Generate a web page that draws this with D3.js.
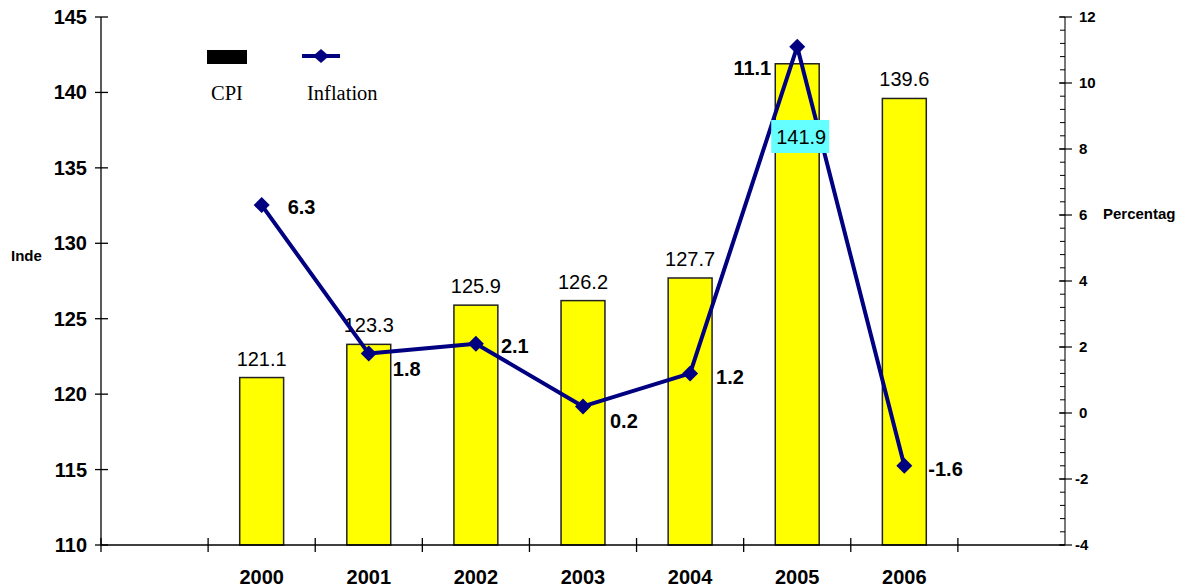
<!DOCTYPE html>
<html><head><meta charset="utf-8">
<script src="https://cdn.jsdelivr.net/npm/d3@7"></script>
<style>body{margin:0;background:#fff}svg{display:block}</style>
</head><body>
<svg id="c" width="1196" height="588"></svg>
<script>
const years = ["2000","2001","2002","2003","2004","2005","2006"];
const cpi = [121.1,123.3,125.9,126.2,127.7,141.9,139.6];
const inflation = [6.3,1.8,2.1,0.2,1.2,11.1,-1.6];
const leftTicks = [110,115,120,125,130,135,140,145];
const rightTicks = [-4,-2,0,2,4,6,8,10,12];
// label placement relative to the point (style, not data)
const inflLabelDx = [26,24,25,27,26,-26,24];
const inflLabelDy = [9,22,9,22,11,28,10];

const svg = d3.select("#c");
const L=101, R=1065, T=17, B=545;
const x = d3.scaleBand().domain(years).range([L,R]).paddingInner(0).paddingOuter(1);
const yL = d3.scaleLinear().domain([110,145]).range([B,T]);
const yR = d3.scaleLinear().domain([-4,12]).range([B,T]);
const bw = x.bandwidth()*0.41;
const cx = d => x(d)+x.bandwidth()/2;
const bold = "Arial, 'Liberation Sans', sans-serif";

// bars
svg.append("g").selectAll("rect").data(years).join("rect")
  .attr("x", d=>cx(d)-bw/2).attr("width", bw)
  .attr("y", (d,i)=>yL(cpi[i])).attr("height",(d,i)=>B-yL(cpi[i]))
  .attr("fill","#ffff00").attr("stroke","#222").attr("stroke-width",1.5);

// left axis
const gl = svg.append("g");
gl.append("line").attr("x1",L).attr("x2",L).attr("y1",T).attr("y2",B).attr("stroke","#000").attr("stroke-width",1.3);
gl.selectAll("line.t").data(leftTicks).join("line").attr("class","t")
  .attr("x1",L-6).attr("x2",L+7).attr("y1",d=>yL(d)).attr("y2",d=>yL(d)).attr("stroke","#000").attr("stroke-width",1.3);
gl.selectAll("text").data(leftTicks).join("text")
  .attr("x",87).attr("y",d=>yL(d)+7).attr("text-anchor","end")
  .attr("font-family",bold).attr("font-weight","bold").attr("font-size",20).text(d=>d);

// bottom axis
const gb = svg.append("g");
gb.append("line").attr("x1",L).attr("x2",R).attr("y1",B).attr("y2",B).attr("stroke","#000").attr("stroke-width",1.3);
const bticks = [L].concat(years.map(d=>x(d)), [x(years[years.length-1])+x.step()]);
gb.selectAll("line.t").data(bticks).join("line").attr("class","t")
  .attr("x1",d=>d).attr("x2",d=>d).attr("y1",B-7).attr("y2",B+7).attr("stroke","#000").attr("stroke-width",1.3);
gb.selectAll("text").data(years).join("text")
  .attr("x",d=>cx(d)).attr("y",584).attr("text-anchor","middle")
  .attr("font-family",bold).attr("font-weight","bold").attr("font-size",20).text(d=>d);

// right axis
const gr = svg.append("g");
gr.append("line").attr("x1",R).attr("x2",R).attr("y1",T).attr("y2",B).attr("stroke","#777").attr("stroke-width",2);
const minor = d3.range(-4,12.001,0.4);
gr.selectAll("line.m").data(minor).join("line").attr("class","m")
  .attr("x1",R-5).attr("x2",R).attr("y1",d=>yR(d)).attr("y2",d=>yR(d)).attr("stroke","#000").attr("stroke-width",1);
gr.selectAll("line.t").data(rightTicks).join("line").attr("class","t")
  .attr("x1",R-6).attr("x2",R+7).attr("y1",d=>yR(d)).attr("y2",d=>yR(d)).attr("stroke","#000").attr("stroke-width",1.2);
gr.selectAll("text").data(rightTicks).join("text")
  .attr("x",d=>d<0?1075:1079).attr("y",d=>yR(d)+5).attr("text-anchor","start")
  .attr("font-family",bold).attr("font-weight","bold").attr("font-size",15).text(d=>d);

// axis titles
svg.append("text").attr("x",11).attr("y",261).attr("font-family",bold).attr("font-weight","bold").attr("font-size",15).text("Inde");
svg.append("text").attr("x",1103).attr("y",219).attr("font-family",bold).attr("font-weight","bold").attr("font-size",15).text("Percentag");

// bar value labels (non-highlighted)
years.forEach((d,i)=>{
  if (i!==5) {
    svg.append("text").attr("x",cx(d)).attr("y",yL(cpi[i])-12).attr("text-anchor","middle")
      .attr("font-family",bold).attr("font-size",20).text(cpi[i].toFixed(1));
  }
});

// inflation line
const line = d3.line().x((d,i)=>cx(years[i])).y(d=>yR(d));
svg.append("path").datum(inflation).attr("d",line).attr("fill","none").attr("stroke","#000080").attr("stroke-width",4).attr("stroke-linejoin","round");
const dia = (px,py,w,h)=>`M${px},${py-h}L${px+w},${py}L${px},${py+h}L${px-w},${py}Z`;
svg.append("g").selectAll("path").data(inflation).join("path")
  .attr("d",(d,i)=>dia(cx(years[i]),yR(d),8,8)).attr("fill","#000080");
svg.append("g").selectAll("text").data(inflation).join("text")
  .attr("x",(d,i)=>cx(years[i])+inflLabelDx[i]).attr("y",(d,i)=>yR(d)+inflLabelDy[i])
  .attr("text-anchor",(d,i)=>inflLabelDx[i]<0?"end":"start")
  .attr("font-family",bold).attr("font-weight","bold").attr("font-size",20).text(d=>d.toFixed(1));

// highlighted 2005 CPI label drawn above the line
{
  const i = 5, d = years[i], ty = 137;
  svg.append("rect").attr("x",cx(d)-26).attr("y",ty-17).attr("width",58).attr("height",33).attr("fill","#66ffff");
  svg.append("text").attr("x",cx(d)+4).attr("y",ty+7).attr("text-anchor","middle")
    .attr("font-family",bold).attr("font-size",20).text(cpi[i].toFixed(1));
}

// legend
svg.append("rect").attr("x",207).attr("y",50).attr("width",40).attr("height",14).attr("fill","#000");
svg.append("line").attr("x1",302).attr("x2",340).attr("y1",56).attr("y2",56).attr("stroke","#000080").attr("stroke-width",4);
svg.append("path").attr("d",dia(321,56,8,7)).attr("fill","#000080");
svg.append("text").attr("x",211).attr("y",100).attr("font-family","'Liberation Serif','Times New Roman',serif").attr("font-size",20.5).text("CPI");
svg.append("text").attr("x",307).attr("y",100).attr("font-family","'Liberation Serif','Times New Roman',serif").attr("font-size",20.5).text("Inflation");
</script>
</body></html>
